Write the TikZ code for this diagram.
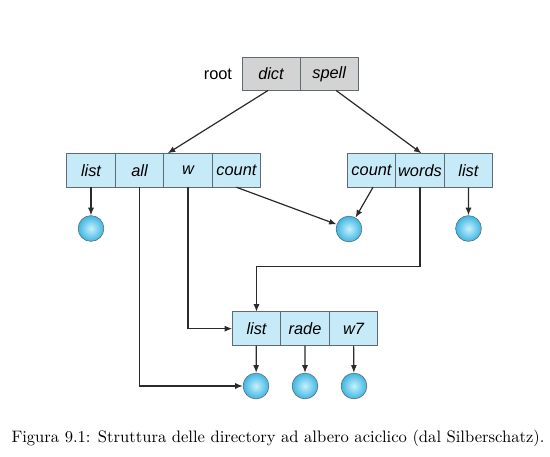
\documentclass[tikz,border=0pt]{standalone}
\usepackage{fontspec}
\setsansfont{Liberation Sans}
\usepackage{tikz}
\usetikzlibrary{arrows.meta,positioning}
\definecolor{cellblue}{HTML}{C6EAF7}
\definecolor{cellgray}{HTML}{D3D3D3}
\definecolor{edgegray}{HTML}{5F6B70}
\definecolor{ballout}{HTML}{3DB6E2}
\definecolor{ballin}{HTML}{C8F0FC}
\definecolor{linedark}{HTML}{2B2B2B}

\begin{document}
\begin{tikzpicture}[x=0.66pt,y=0.66pt,>={Latex[length=5pt,width=4pt]},
  cell/.style={draw=edgegray,fill=cellblue,minimum width=32pt,minimum height=22.4pt,
    inner sep=0pt,outer sep=0pt,font=\sffamily\itshape\fontsize{10.8pt}{13pt}\selectfont},
  rootcell/.style={cell,fill=cellgray,minimum width=38.4pt,minimum height=21.8pt},
  file/.style={circle,draw=edgegray,inner color=ballin,outer color=ballout,minimum size=17pt,inner sep=0pt},
  link/.style={->,draw=linedark,line width=0.8pt}]
\useasboundingbox (0,0) rectangle (550,457);
% root directory
\node[rootcell] (dict) at (271,383) {dict};
\node[rootcell,right=0pt of dict] (spell) {spell};
\node[left=3pt of dict,font=\sffamily\fontsize{10.8pt}{13pt}\selectfont] (root) {root};
% subdirectories
\node[cell] (llist) at (91,286.7) {list};
\node[cell,right=0pt of llist] (lall) {all};
\node[cell,right=0pt of lall] (lw) {w};
\node[cell,right=0pt of lw] (lcount) {count};
\node[cell] (rcount) at (371.5,286.7) {count};
\node[cell,right=0pt of rcount] (rwords) {words};
\node[cell,right=0pt of rwords] (rlist) {list};
\node[cell] (blist) at (256.5,128.3) {list};
\node[cell,right=0pt of blist] (brade) {rade};
\node[cell,right=0pt of brade] (bw7) {w7};
% files
\node[file] (flist) at (91,228.5) {};
\node[file] (fcount) at (349,228) {};
\node[file] (frlist) at (468.5,228.5) {};
\node[file] (fblist) at (256,71) {};
\node[file] (frade) at (305,71) {};
\node[file] (fw7) at (354,71) {};
% links
\draw[link] ([xshift=-2pt]dict.south) -- ([xshift=2.6pt]lw.north west);
\draw[link] ([xshift=4.6pt]spell.south) -- ([xshift=1pt]rwords.north);
\draw[link] (llist) -- (flist);
\draw[link] (lcount.south) -- (fcount);
\draw[link] ([xshift=1pt]rcount.south) -- (fcount);
\draw[link] (rlist) -- (frlist);
\draw[link] (rwords.south) -- ++(0,-79) -| (blist.north);
\draw[link] (lall.south) |- (fblist);
\draw[link] (lw.south) |- (blist);
\draw[link] (blist) -- (fblist);
\draw[link] (brade) -- (frade);
\draw[link] (bw7) -- (fw7);
% caption
\node[font=\fontsize{10.95pt}{13pt}\selectfont] (caption) at (278,19) {Figura 9.1: Struttura delle directory ad albero aciclico (dal Silberschatz).};
\end{tikzpicture}
\end{document}
